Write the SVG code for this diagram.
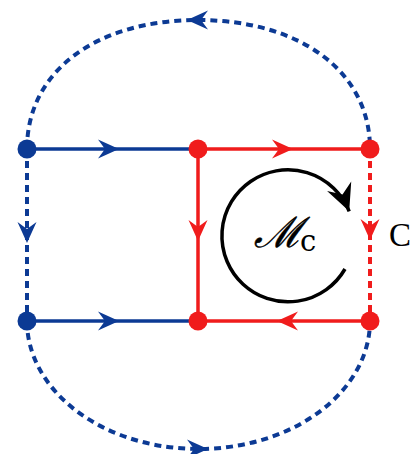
<svg xmlns="http://www.w3.org/2000/svg" xmlns:xlink="http://www.w3.org/1999/xlink" width="413" height="454" viewBox="0 0 413 454">
<defs>
<style>
.blue{stroke:#0c3a94;fill:none;stroke-width:3.5}
.red{stroke:#f01c1c;fill:none;stroke-width:3.5}
.dash{stroke-width:4;stroke-dasharray:7 5}
.bf{fill:#0c3a94}
.rf{fill:#f01c1c}
.lbl{font-family:"DejaVu Serif","Liberation Serif",serif;fill:#000}
</style>
<path id="ah" d="M0,0 L-21,-9.5 L-14,0 L-21,9.5 Z"/>
<marker id="bk" viewBox="-30 -15 32 30" refX="0" refY="0" markerWidth="32" markerHeight="30" markerUnits="userSpaceOnUse" orient="auto">
<path d="M0,0 L-27,-13 L-18,0 L-27,13 Z" fill="#000"/>
</marker>
</defs>
<rect width="413" height="454" fill="#fff"/>
<g id="connectors">
<path class="blue dash" d="M27,149 C27,70 98,20 198,20 C298,20 370,70 370,149"/>
<path class="blue dash" d="M27,321 A171.5,128 0 0 0 370,321"/>
<path class="blue dash" d="M27,149 L27,321"/>
<path class="red dash" d="M370,149 L370,321"/>
<path class="blue" d="M27,149 L198,149"/>
<path class="blue" d="M27,321 L198,321"/>
<path class="red" d="M198,149 L370,149 M198,149 L198,321 M198,321 L370,321"/>
<use href="#ah" class="bf" transform="translate(119,149)"/>
<use href="#ah" class="bf" transform="translate(119,321)"/>
<use href="#ah" class="rf" transform="translate(293,149)"/>
<use href="#ah" class="rf" transform="translate(277,321) rotate(180)"/>
<use href="#ah" class="rf" transform="translate(198,241) rotate(90)"/>
<use href="#ah" class="rf" transform="translate(370,240) rotate(90)"/>
<use href="#ah" class="bf" transform="translate(27,243) rotate(90)"/>
<use href="#ah" class="bf" transform="translate(187,20) rotate(180)"/>
<use href="#ah" class="bf" transform="translate(208,449)"/>
<path d="M345,269 A66,66 0 1 1 349.2,211.3" fill="none" stroke="#000" stroke-width="3.5" marker-end="url(#bk)"/>
</g>
<g id="n1"><circle cx="27" cy="149" r="9.5" class="bf"/></g>
<g id="n2"><circle cx="27" cy="321" r="9.5" class="bf"/></g>
<g id="n3"><circle cx="198" cy="149" r="9.5" class="rf"/></g>
<g id="n4"><circle cx="370" cy="149" r="9.5" class="rf"/></g>
<g id="n5"><circle cx="198" cy="321" r="9.5" class="rf"/></g>
<g id="n6"><circle cx="370" cy="321" r="9.5" class="rf"/></g>
<g id="labels">
<text class="lbl" x="254" y="247" font-size="42"><tspan font-style="italic" stroke="#000" stroke-width="0.5">ℳ</tspan><tspan x="300" y="251" font-size="29">c</tspan></text>
<text class="lbl" x="389" y="246" font-size="33" style="font-family:'Liberation Serif',serif">C</text>
</g>
</svg>
